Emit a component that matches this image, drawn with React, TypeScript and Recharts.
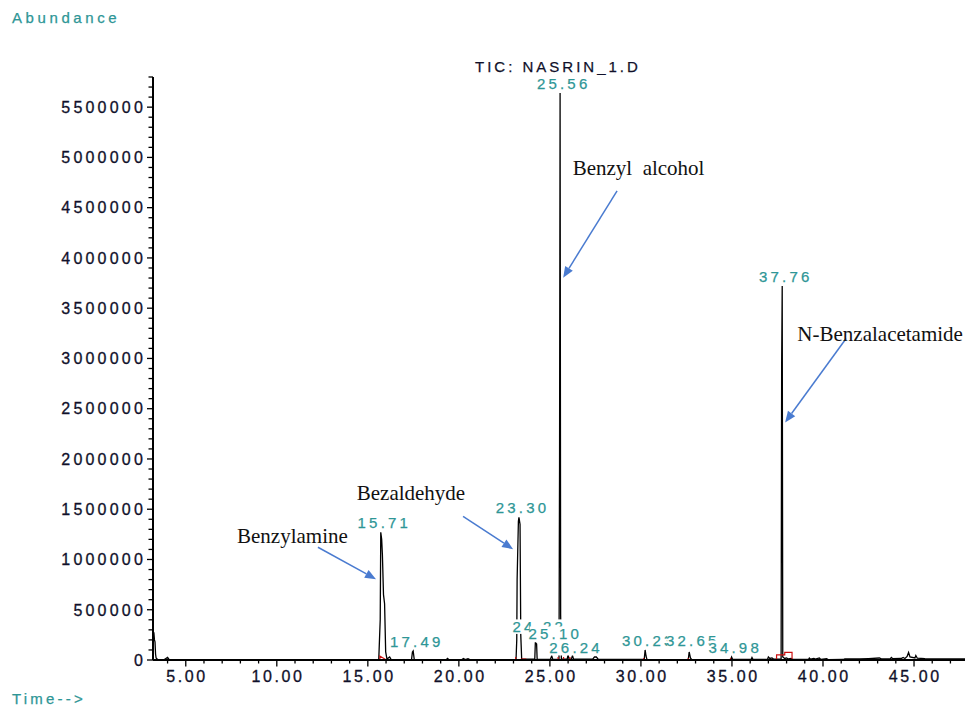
import React from 'react';
import { LineChart, Line, XAxis, YAxis, LabelList, ReferenceLine, ReferenceDot } from 'recharts';

// ---- chromatogram trace (retention time, min) ----
const traceTimes = [
  3.2, 3.22, 3.25, 3.28, 3.31, 3.34, 3.37, 3.45, 3.8, 4.0, 4.08, 4.5, 6.0, 8.0, 10.0, 12.0, 14.0,
  15.6, 15.68, 15.71, 15.76, 15.8, 15.86, 15.92, 15.98, 16.05, 16.2, 16.28, 16.6,
  17.4, 17.45, 17.49, 17.55, 18.5, 19.3, 19.38, 19.45, 20.15, 20.25, 20.35, 20.5, 20.6, 22.5,
  23.14, 23.18, 23.2, 23.27, 23.3, 23.36, 23.4, 23.45,
  24.17, 24.2, 24.22, 24.27, 24.3, 25.02, 25.1, 25.16,
  25.5, 25.53, 25.56, 25.59, 25.63, 25.95, 26.0, 26.05, 26.18, 26.24, 26.3,
  27.35, 27.45, 27.55, 27.65, 29.0, 30.18, 30.23, 30.28, 30.33, 31.5,
  32.6, 32.65, 32.72, 32.78, 34.0, 34.93, 34.98, 35.04, 36.05, 36.1, 36.16,
  36.95, 37.0, 37.08, 37.2, 37.3, 37.55, 37.7, 37.73, 37.76, 37.79, 37.9, 38.0, 38.1, 38.25, 38.35,
  39.2, 39.25, 39.32, 39.5, 39.58, 39.8, 39.88, 40.2, 40.28, 41.1, 41.2, 41.5, 42.0, 42.5,
  43.1, 43.2, 43.7, 43.75, 43.82, 44.3, 44.4, 44.5, 44.62, 44.7, 44.78, 45.05, 45.1, 45.18, 45.6, 46.5, 47.8,
];
const traceAbundance = [
  0, 280000, 270000, 200000, 180000, 60000, 20000, 5000, 3000, 25000, 5000, 2000, 1000, 1000, 1000, 1500, 1500,
  2000, 400000, 1270000, 1200000, 1050000, 650000, 560000, 80000, 10000, 30000, 5000, 3000,
  3000, 80000, 90000, 5000, 2000, 3000, 15000, 3000, 3000, 15000, 4000, 12000, 3000, 2000,
  3000, 200000, 800000, 1380000, 1420000, 1350000, 250000, 10000,
  8000, 170000, 170000, 160000, 5000, 5000, 40000, 5000,
  5000, 1880000, 5640000, 450000, 10000, 8000, 50000, 8000, 8000, 45000, 8000,
  8000, 30000, 30000, 8000, 5000, 5000, 100000, 40000, 5000, 4000,
  5000, 80000, 20000, 5000, 4000, 5000, 30000, 5000, 5000, 25000, 5000,
  5000, 30000, 15000, 20000, 8000, 8000, 10000, 2960000, 3720000, 30000, 15000, 20000, 10000, 15000, 5000,
  5000, 20000, 8000, 15000, 8000, 20000, 5000, 12000, 4000, 5000, 12000, 12000, 10000, 14000,
  20000, 12000, 12000, 25000, 14000, 15000, 25000, 15000, 35000, 75000, 30000, 20000, 45000, 18000, 14000, 12000, 12000,
];

// ---- peak labels ----
const peakTimes = [15.71, 17.49, 23.3, 24.22, 25.1, 25.56, 26.24, 30.23, 32.65, 34.98, 37.76];
const peakTexts = ['15.71', '17.49', '23.30', '24.22', '25.10', '25.56', '26.24', '30.23', '32.65', '34.98', '37.76'];

// ---- integration markers (red) ----
const markerTimes = [
  15.66, 15.66, 16.02, 16.03,
  23.12, 23.12, 23.13, 23.4, 23.7, 23.71,
  25.45, 25.45, 25.46, 25.75, 25.75, 25.76, 26.1, 26.1, 26.11,
  30.15, 30.15, 30.16, 32.6, 32.6, 32.61, 34.92, 34.92, 34.93,
  37.45, 37.45, 37.9, 37.9, 38.3, 38.3,
];
const markerAbundance = [
  0, 40000, 0, null,
  0, 30000, null, 10000, 10000, null,
  0, 30000, null, 0, 30000, null, 0, 30000, null,
  0, 20000, null, 0, 20000, null, 0, 20000, null,
  0, 50000, 50000, 75000, 75000, 0,
];

// ---- axis ticks ----
const xTicks = [4, 5, 6, 7, 8, 9, 10, 11, 12, 13, 14, 15, 16, 17, 18, 19, 20, 21, 22, 23, 24, 25,
  26, 27, 28, 29, 30, 31, 32, 33, 34, 35, 36, 37, 38, 39, 40, 41, 42, 43, 44, 45, 46, 47];
const xLabelTicks = [5, 10, 15, 20, 25, 30, 35, 40, 45];
const yLabelTicks = [0, 500000, 1000000, 1500000, 2000000, 2500000, 3000000, 3500000, 4000000, 4500000, 5000000, 5500000];
const yMinorStep = 100000;
const yMax = 5800000;
const yTicks = Array.from({ length: yMax / yMinorStep + 1 }, (_, i) => i * yMinorStep);

// ---- annotations ----
const annotationTexts = ['Benzylamine', 'Bezaldehyde', 'Benzyl  alcohol', 'N-Benzalacetamide'];
const annotationTextAt = [[10.86, 1162000], [17.37, 1589000], [29.87, 4827000], [43.14, 3178000]];
const arrowFrom = [[12.26, 1122000], [20.23, 1430000], [28.69, 4668000], [41.27, 3198000]];
const arrowTo = [[15.45, 804000], [22.98, 1102000], [25.73, 3804000], [37.92, 2364000]];

// ---- styles ----
const TEAL = '#2e9696';
const INK = '#10102a';
const ARROW = '#4a7bd0';
const SANS = '"Liberation Sans", Arial, sans-serif';
const SERIF = '"Liberation Serif", "Times New Roman", serif';
const labelLift: Record<string, number> = { '24.22': 11, '25.10': 17, '26.24': 2, '32.65': 6 };

const trace = traceTimes.map((t, i) => {
  const k = peakTimes.indexOf(t);
  return { t, v: traceAbundance[i], lbl: k >= 0 ? peakTexts[k] : undefined };
});
const markers = markerTimes.map((t, i) => ({ t, v: markerAbundance[i] }));

const XTick = (props: any) => {
  const { x, y, payload } = props;
  const v = payload.value;
  const major = xLabelTicks.includes(v);
  return (
    <g>
      <line x1={x} x2={x} y1={y} y2={y + (major ? 6.5 : 3.5)} stroke="#000" strokeWidth={1.3} />
      {major && (
        <text x={x + 1.3} y={y + 22} textAnchor="middle" fontFamily={SANS} fontSize={16}
          fill={INK} stroke={INK} strokeWidth={0.3} style={{ letterSpacing: '2.6px' }}>
          {v.toFixed(2)}
        </text>
      )}
    </g>
  );
};

const YTick = (props: any) => {
  const { x, y, payload } = props;
  const v = payload.value;
  const major = yLabelTicks.includes(v);
  return (
    <g>
      <line x1={x} x2={x - (major ? 6 : 4.5)} y1={y} y2={y} stroke="#000" strokeWidth={1.3} />
      {major && (
        <text x={x - 7} y={y} dy="0.36em" textAnchor="end" fontFamily={SANS} fontSize={16}
          fill={INK} stroke={INK} strokeWidth={0.3} style={{ letterSpacing: '3.2px' }}>
          {String(v)}
        </text>
      )}
    </g>
  );
};

const PeakLabel = (props: any) => {
  const value = props.value;
  if (value === undefined || value === null || value === '') return null;
  const px = props.x ?? props.viewBox?.x;
  const py = props.y ?? props.viewBox?.y;
  if (px == null || py == null) return null;
  const lift = labelLift[value] ?? 4;
  const base = py - lift;
  const w = 50;
  const cx = px + 3;
  return (
    <g>
      <rect x={cx - w / 2} y={base - 12.5} width={w} height={14.5} fill="#fff" />
      <text x={cx + 0.6} y={base} textAnchor="middle" fontFamily={SANS} fontSize={15}
        fill={TEAL} stroke={TEAL} strokeWidth={0.25} style={{ letterSpacing: '3.2px' }}>
        {value}
      </text>
    </g>
  );
};

const ArrowShape = (p: any) => {
  const { x1, y1, x2, y2 } = p;
  const ang = Math.atan2(y2 - y1, x2 - x1);
  const L = 11;
  const W = 4.5;
  const bx = x2 - L * Math.cos(ang);
  const by = y2 - L * Math.sin(ang);
  const nx = -Math.sin(ang);
  const ny = Math.cos(ang);
  return (
    <g>
      <line x1={x1} y1={y1} x2={bx} y2={by} stroke={ARROW} strokeWidth={1.5} />
      <polygon points={`${x2},${y2} ${bx + nx * W},${by + ny * W} ${bx - nx * W},${by - ny * W}`} fill={ARROW} />
    </g>
  );
};

const makeAnnText = (text: string) => (p: any) => (
  <text x={p.cx} y={p.cy} textAnchor="middle" fontFamily={SERIF} fontSize={21} fill="#111"
    style={{ whiteSpace: 'pre' }}>
    {text}
  </text>
);

export default function App() {
  return (
    <div style={{ position: 'absolute', left: 0, top: 0, width: 968, height: 706, background: '#fff' }}>
      <LineChart width={968} height={706} margin={{ top: 77, right: 3, bottom: 16, left: 93 }}>
        <XAxis type="number" dataKey="t" domain={[3.2, 47.8]} ticks={xTicks} interval={0}
          allowDataOverflow tick={<XTick />} tickLine={false} tickSize={0} tickMargin={0}
          axisLine={{ stroke: '#000', strokeWidth: 2 }} height={30} />
        <YAxis type="number" domain={[0, yMax]} ticks={yTicks} interval={0} allowDataOverflow
          tick={<YTick />} tickLine={false} tickSize={0} tickMargin={0}
          axisLine={{ stroke: '#000', strokeWidth: 2 }} width={60} />
        {annotationTexts.map((txt, i) => (
          <ReferenceLine key={'a' + i} ifOverflow="visible"
            segment={[{ x: arrowFrom[i][0], y: arrowFrom[i][1] }, { x: arrowTo[i][0], y: arrowTo[i][1] }]}
            shape={ArrowShape} />
        ))}
        {annotationTexts.map((txt, i) => (
          <ReferenceDot key={'t' + i} ifOverflow="visible" x={annotationTextAt[i][0]} y={annotationTextAt[i][1]}
            r={0} shape={makeAnnText(txt)} />
        ))}
        <Line data={trace} dataKey="v" type="linear" stroke="#000" strokeWidth={1.3} dot={false}
          activeDot={false} isAnimationActive={false}>
          <LabelList dataKey="lbl" content={PeakLabel} />
        </Line>
        <Line data={markers} dataKey="v" type="linear" stroke="#cc1010" strokeWidth={1.2} dot={false}
          activeDot={false} connectNulls={false} isAnimationActive={false} />
      </LineChart>
      <svg width={968} height={706} style={{ position: 'absolute', left: 0, top: 0, pointerEvents: 'none' }}>
        <text x={12} y={23} fontFamily={SANS} fontSize={15} fill={TEAL} stroke={TEAL} strokeWidth={0.25}
          style={{ letterSpacing: '3.6px' }}>Abundance</text>
        <text x={12} y={704} fontFamily={SANS} fontSize={15} fill={TEAL} stroke={TEAL} strokeWidth={0.25}
          style={{ letterSpacing: '3.2px' }}>Time--&gt;</text>
        <text x={475} y={72} fontFamily={SANS} fontSize={15} fill={INK} stroke={INK} strokeWidth={0.25}
          style={{ letterSpacing: '3px' }}>TIC: NASRIN_1.D</text>
      </svg>
    </div>
  );
}
